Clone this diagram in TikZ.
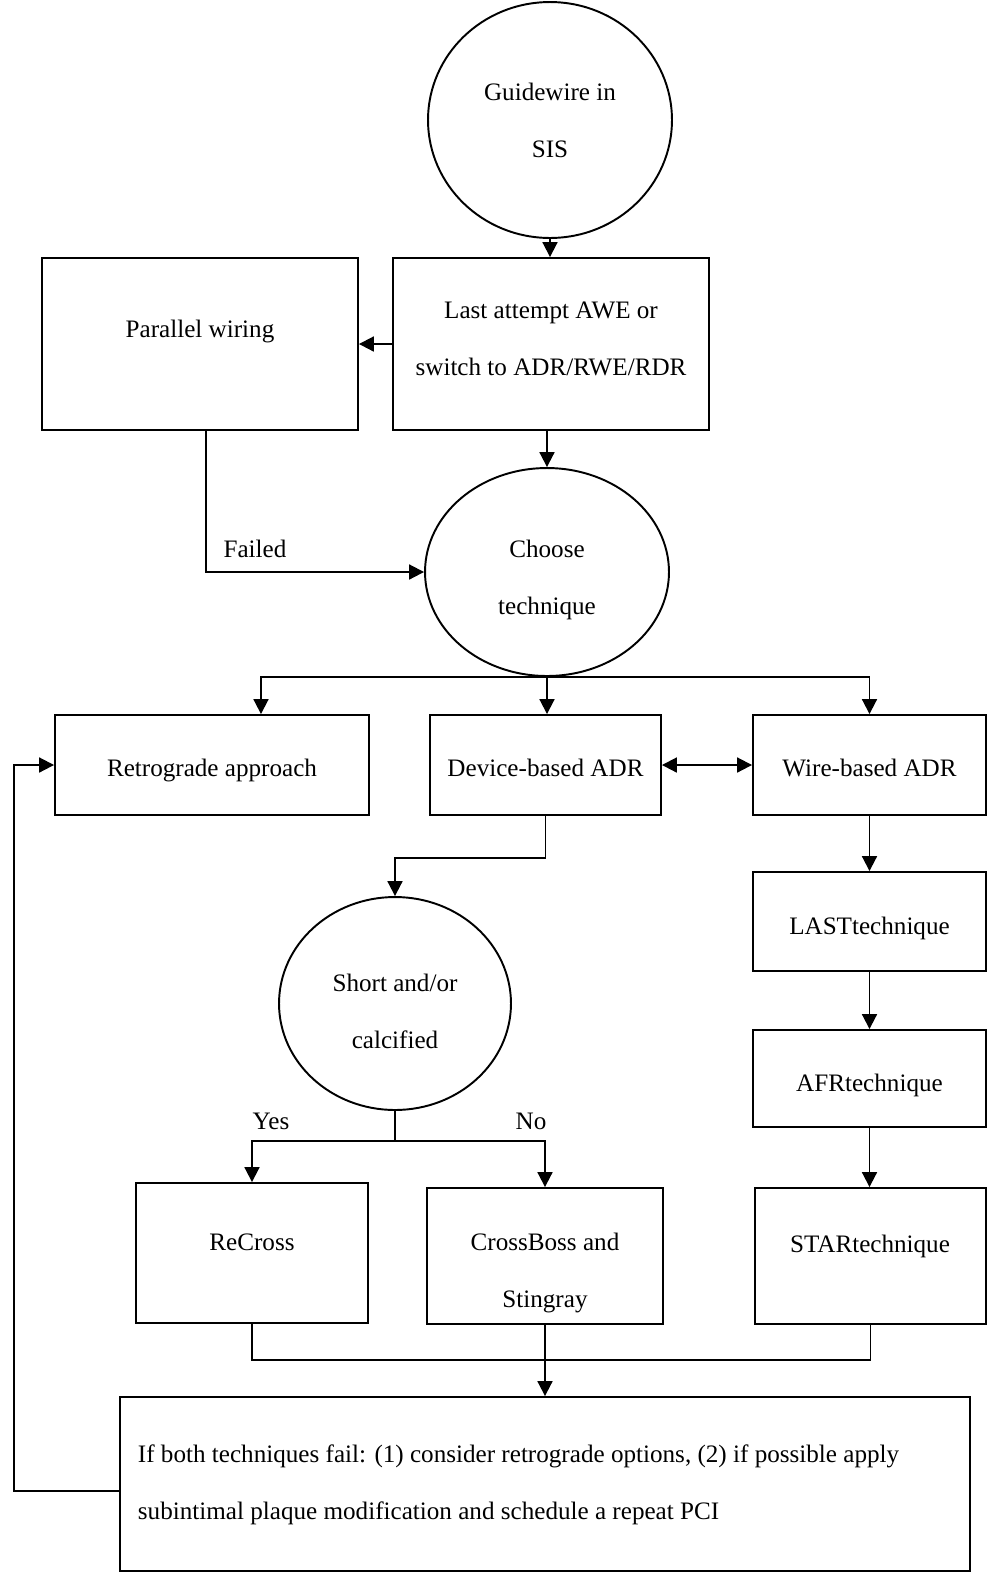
\documentclass[tikz,border=0pt]{standalone}
\usepackage{fontspec}
\setmainfont{Liberation Serif}
\usetikzlibrary{shapes.geometric,arrows.meta}
\begin{document}
\begin{tikzpicture}[x=0.02cm, y=-0.02cm, line width=1.1pt,
	every node/.style={font=\fontsize{14.3}{32.4}\selectfont, align=center},
	oval/.style={ellipse, draw, inner sep=0pt},
	stepbox/.style={rectangle, draw, inner sep=0pt},
	arr/.style={-{Triangle[length=8.5pt,width=8.5pt]}},
	biarr/.style={{Triangle[length=8.5pt,width=8.5pt]}-{Triangle[length=8.5pt,width=8.5pt]}}]
	\useasboundingbox (0,0) rectangle (989,1573);
	% top of the chart
	\node[oval, minimum width=4.88cm, minimum height=4.72cm] (guide) at (550,120) {};
	\node (guide-t) at (550,120) {Guidewire in\\SIS};
	\node[stepbox, minimum width=6.32cm, minimum height=3.44cm] (last) at (551,344) {};
	\node (last-t) at (551,339) {Last attempt AWE or\\switch to ADR/RWE/RDR};
	\node[stepbox, minimum width=6.32cm, minimum height=3.44cm] (parallel) at (200,344) {};
	\node (parallel-t) at (200,331) {Parallel wiring};
	\node[oval, minimum width=4.88cm, minimum height=4.16cm] (choose) at (547,572) {};
	\node (choose-t) at (547,580) {Choose\\technique};
	\node (failed) at (255,549) {Failed};
	% techniques
	\node[stepbox, minimum width=6.28cm, minimum height=2cm] (retro) at (212,765) {};
	\node (retro-t) at (212,770) {Retrograde approach};
	\node[stepbox, minimum width=4.62cm, minimum height=2cm] (device) at (545.5,765) {};
	\node (device-t) at (545.5,768) {Device-based ADR};
	\node[stepbox, minimum width=4.66cm, minimum height=2cm] (wire) at (869.5,765) {};
	\node (wire-t) at (869.5,768) {Wire-based ADR};
	\node[stepbox, minimum width=4.66cm, minimum height=1.98cm] (lasttech) at (869.5,921.5) {};
	\node (lasttech-t) at (869.5,928) {LASTtechnique};
	\node[stepbox, minimum width=4.66cm, minimum height=1.94cm] (afr) at (869.5,1078.5) {};
	\node (afr-t) at (869.5,1085) {AFRtechnique};
	\node[stepbox, minimum width=4.62cm, minimum height=2.72cm] (star) at (870.5,1256) {};
	\node (star-t) at (870,1246) {STARtechnique};
	\node[oval, minimum width=4.64cm, minimum height=4.26cm] (short) at (395,1003.5) {};
	\node (short-t) at (395,1011) {Short and/or\\calcified};
	\node[stepbox, minimum width=4.64cm, minimum height=2.8cm] (recross) at (252,1253) {};
	\node (recross-t) at (252,1242) {ReCross};
	\node[stepbox, minimum width=4.72cm, minimum height=2.72cm] (crossboss) at (545,1256) {};
	\node (crossboss-t) at (545,1273) {CrossBoss and\\Stingray};
	\node (yes) at (271,1121) {Yes};
	\node (no) at (531,1121) {No};
	% final step
	\node[stepbox, minimum width=17cm, minimum height=3.48cm] (final) at (545,1484) {};
	\node[anchor=west, align=left, inner sep=0pt] (final-t) at (137,1485) {If both techniques fail: (1) consider retrograde options, (2) if possible apply\\subintimal plaque modification and schedule a repeat PCI};
	% connectors
	\draw[arr] (guide.south) -- (guide.south |- last.north);
	\draw[arr] (last.west) -- (parallel.east);
	\draw[arr] (choose.north |- last.south) -- (choose.north);
	\draw[arr] ([xshift=0.12cm]parallel.south) |- (choose.west);
	\draw[arr] (choose.south) -- (choose.south |- device.north);
	\draw[arr] (choose.south) -| ([xshift=0.98cm]retro.north);
	\draw[arr] (choose.south) -| (wire.north);
	\draw[biarr] (device.east) -- (wire.west);
	\draw[arr] (device.south) -- ++(0,42) -| (short.north);
	\draw[arr] (wire.south) -- (lasttech.north);
	\draw[arr] (lasttech.south) -- (afr.north);
	\draw[arr] (afr.south) -- (afr.south |- star.north);
	\coordinate (split) at ([yshift=-0.6cm]short.south);
	\draw (short.south) -- (split);
	\draw[arr] (split) -| (recross.north);
	\draw[arr] (split) -| (crossboss.north);
	\draw (recross.south) -- ++(0,36) -| (star.south);
	\draw[arr] (crossboss.south) -- (crossboss.south |- final.north);
	\coordinate (loop) at (14,1491);
	\draw[arr] (final.west |- loop) -- (loop) |- (retro.west);
\end{tikzpicture}
\end{document}
